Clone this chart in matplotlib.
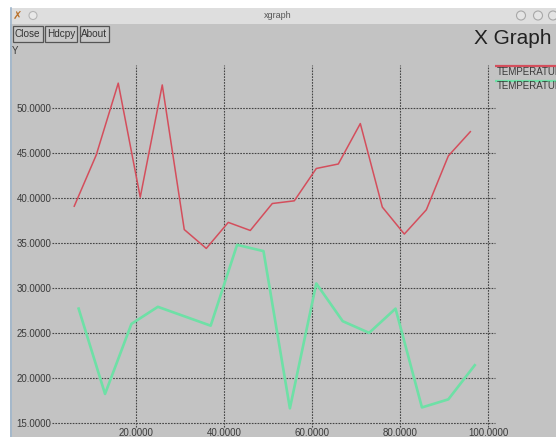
import matplotlib
matplotlib.use("Agg")
import matplotlib.pyplot as plt
from matplotlib.patches import Rectangle, Circle

# ---- data -------------------------------------------------------------
temp1_x = [6, 11, 16, 21, 26, 31, 36, 41, 46, 51, 56, 61, 66, 71, 76, 81, 86, 91, 96]
temp1_y = [39.1, 44.8, 52.8, 40.1, 52.6, 36.5, 34.4, 37.3, 36.4, 39.4,
           39.7, 43.3, 43.8, 48.3, 39.0, 36.0, 38.7, 44.7, 47.4]

temp2_x = [7, 13, 19, 25, 37, 43, 49, 55, 61, 67, 73, 79, 85, 91, 97]
temp2_y = [27.7, 18.2, 26.0, 27.9, 25.8, 34.8, 34.1, 16.6, 30.5, 26.3,
           25.0, 27.7, 16.7, 17.6, 21.4]

x_ticks = [20, 40, 60, 80, 100]
y_ticks = [15, 20, 25, 30, 35, 40, 45, 50]
series_names = ["TEMPERATURE", "TEMPERATURE"]
series_colors = ["#d44e5c", "#6ee0a6"]

W, H = 556, 437
FONT = "Liberation Sans"
TXT = "#3a3a3a"
BG = "#c3c3c3"

fig = plt.figure(figsize=(W / 100, H / 100), dpi=100)
fig.patch.set_facecolor("white")

# ---- window frame in pixel coordinates --------------------------------
bg = fig.add_axes([0, 0, 1, 1])
bg.set_xlim(0, W)
bg.set_ylim(H, 0)
bg.axis("off")

bg.add_patch(Rectangle((10, 8), W - 10, H - 8, facecolor=BG, edgecolor="none"))
bg.add_patch(Rectangle((10, 8), W - 10, 16, facecolor="#dedede", edgecolor="none"))
bg.plot([10.5, 10.5], [8, H], color="#9fb6cc", lw=1.2)
bg.text(278, 15.5, "xgraph", ha="center", va="center", fontsize=6.5,
        family=FONT, color="#555555")
# title bar icons
bg.text(17, 15.5, "✗", ha="center", va="center", fontsize=8, color="#b8702a",
        family="DejaVu Sans", fontweight="bold")
bg.add_patch(Circle((33, 15.5), 4, facecolor="#e8e8e8", edgecolor="#b5b5b5", lw=0.8))
for cx in (521, 538, 553):
    bg.add_patch(Circle((cx, 15.5), 4.5, facecolor="#e4e4e4", edgecolor="#a8a8a8", lw=0.8))

# buttons
for label, x0, x1 in [("Close", 12.5, 42.5), ("Hdcpy", 44.5, 77), ("About", 79.5, 109)]:
    bg.add_patch(Rectangle((x0, 26), x1 - x0, 15.5, facecolor="#c8c8c8",
                           edgecolor="#555555", lw=0.9))
    bg.text((x0 + x1) / 2, 34, label, ha="center", va="center", fontsize=7.2,
            family=FONT, color="#333333")

bg.text(552, 38, "X Graph", ha="right", va="center", fontsize=15,
        family=FONT, color="#222222")
bg.text(12, 50.5, "Y", ha="left", va="center", fontsize=7, family=FONT, color=TXT)

# legend at the right edge (labels run past the window border)
for i, (name, col) in enumerate(zip(series_names, series_colors)):
    yl = 66 + i * 14.5
    bg.plot([495, W], [yl, yl], color=col, lw=1.6, solid_capstyle="butt")
    bg.text(497, yl + 5.8, name, ha="left", va="center", fontsize=7,
            family=FONT, color=TXT, clip_on=True)

# ---- plot area --------------------------------------------------------
px_left, px_right, px_top, px_bottom = 52, 495, 65, 422.7
ax = fig.add_axes([px_left / W, (H - px_bottom) / H,
                   (px_right - px_left) / W, (px_bottom - px_top) / H])
ax.patch.set_alpha(0)
ax.set_xlim(0.95, 101.6)
ax.set_ylim(15, 54.82)
for s in ax.spines.values():
    s.set_visible(False)

grid_style = dict(color="#454545", lw=0.8, linestyle=(0, (1.5, 1.1)), zorder=1)
for xv in x_ticks:
    ax.axvline(xv, ymin=-0.012, ymax=1, clip_on=False, **grid_style)
for yv in y_ticks:
    ax.axhline(yv, xmin=0, xmax=1, clip_on=False, **grid_style)

ax.set_xticks(x_ticks)
ax.set_xticklabels([f"{v:.4f}" for v in x_ticks])
ax.set_yticks(y_ticks)
ax.set_yticklabels([f"{v:.4f}" for v in y_ticks])
ax.tick_params(length=0, labelsize=7, labelcolor=TXT)
ax.tick_params(axis="x", pad=3.5)
ax.tick_params(axis="y", pad=0.5)
for lab in ax.get_xticklabels() + ax.get_yticklabels():
    lab.set_family(FONT)

ax.plot(temp1_x, temp1_y, color=series_colors[0], lw=1.1, zorder=3)
ax.plot(temp2_x, temp2_y, color=series_colors[1], lw=1.9, zorder=3)

fig.savefig("out.png", dpi=100)
